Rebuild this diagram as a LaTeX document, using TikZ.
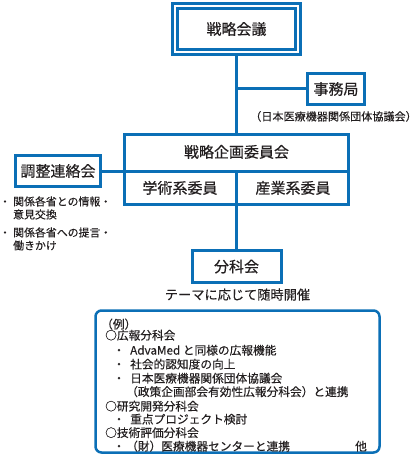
\documentclass[tikz,border=0pt]{standalone}
\usepackage{fontspec}
\setmainfont{Noto Sans CJK JP}[UprightFeatures={FakeBold=0.25},BoldFont=Noto Sans CJK JP,BoldFeatures={FakeBold=0.5}]
\usetikzlibrary{backgrounds}
\definecolor{bl}{HTML}{0B6FB6}
\definecolor{tx}{HTML}{231F20}
\begin{document}
\begin{tikzpicture}[x=1pt,y=-1pt,
  box/.style={draw=bl, line width=3pt, inner sep=0pt, text=tx, font=\fontsize{15}{15}\selectfont\bfseries},
  conn/.style={draw=bl, line width=3pt},
  txt/.style={inner sep=0pt, text=tx, text height=0.8em, text depth=0.08em},
  big/.style={txt, font=\fontsize{15}{15}\selectfont\bfseries},
  small/.style={txt, font=\fontsize{11.7}{11.7}\selectfont, anchor=west},
  side/.style={txt, font=\fontsize{10.9}{10.9}\selectfont, anchor=west},
  dot/.style={txt, font=\fontsize{11.7}{11.7}\selectfont, anchor=center}
]
\useasboundingbox (0,0) rectangle (419,465);

% top
\node[box, double=white, double distance=2.5pt, line width=2.7pt, minimum width=123pt, minimum height=46pt] (kaigi) at (236.5,29) {戦略会議};
\node[box, minimum width=57pt, minimum height=31pt] (jimu) at (336,89) {事務局};
\node[txt, font=\fontsize{11.1}{11.1}\selectfont] (jimunote) at (333.5,117) {（日本医療機器関係団体協議会）};

% strategy planning committee
\node[box, minimum width=224pt, minimum height=70pt] (kikaku) at (236.5,169.5) {};
\node[big] (kikakut) at (236.5,154) {戦略企画委員会};
\node[big] (gaku) at (180,190) {学術系委員};
\node[big] (sangyo) at (293,190) {産業系委員};
\coordinate (divL) at (123.5,171);
\coordinate (divR) at (348.5,171);
\coordinate (divM) at (236.5,171);

% coordination
\node[box, minimum width=85pt, minimum height=31pt] (chosei) at (58,171) {調整連絡会};
\node[side, anchor=center] (b1) at (5,202) {・};
\node[side] (s1a) at (13,202) {関係各省との情報・};
\node[side] (s1b) at (13,215) {意見交換};
\node[side, anchor=center] (b2) at (5,233) {・};
\node[side] (s2a) at (13,233) {関係各省への提言・};
\node[side] (s2b) at (13,246) {働きかけ};

% subcommittee
\node[box, minimum width=89pt, minimum height=32pt] (bunka) at (236.5,266.5) {分科会};
\node[txt, font=\fontsize{13.2}{13.2}\selectfont] (tema) at (237.5,296) {テーマに応じて随時開催};

% examples box
\node[draw=bl, line width=2.5pt, rounded corners=6pt, minimum width=284pt, minimum height=142pt, inner sep=0pt] (ex) at (237.5,381.5) {};
\node[small] (l1) at (101,325) {（例）};
\node[small] (l2) at (105,336) {○広報分科会};
\node[dot] (d3) at (119,351) {・};
\node[small] (l3) at (130,351) {AdvaMed と同様の広報機能};
\node[dot] (d4) at (119,365) {・};
\node[small] (l4) at (130,365) {社会的認知度の向上};
\node[dot] (d5) at (119,379) {・};
\node[small] (l5) at (130,379) {日本医療機器関係団体協議会};
\node[small] (l6) at (126,392.5) {（政策企画部会有効性広報分科会）と連携};
\node[small] (l7) at (105,407) {○研究開発分科会};
\node[dot] (d8) at (119,420) {・};
\node[small] (l8) at (130,420) {重点プロジェクト検討};
\node[small] (l9) at (105,433.5) {○技術評価分科会};
\node[dot] (d10) at (119,447) {・};
\node[small] (l10) at (126,447) {（財）医療機器センターと連携};
\node[dot] (ta) at (361,447) {他};

\begin{pgfonlayer}{background}
\draw[conn] (kaigi.south) -- (kikaku.north);
\draw[conn] (kaigi.south |- jimu.west) -- (jimu.west);
\draw[conn] (divL) -- (divR);
\draw[conn] (divM) -- (kikaku.south);
\draw[conn] (kikaku.south) -- (bunka.north);
\draw[conn] (chosei.east) -- (kikaku.west |- chosei.east);
\end{pgfonlayer}
\end{tikzpicture}
\end{document}
